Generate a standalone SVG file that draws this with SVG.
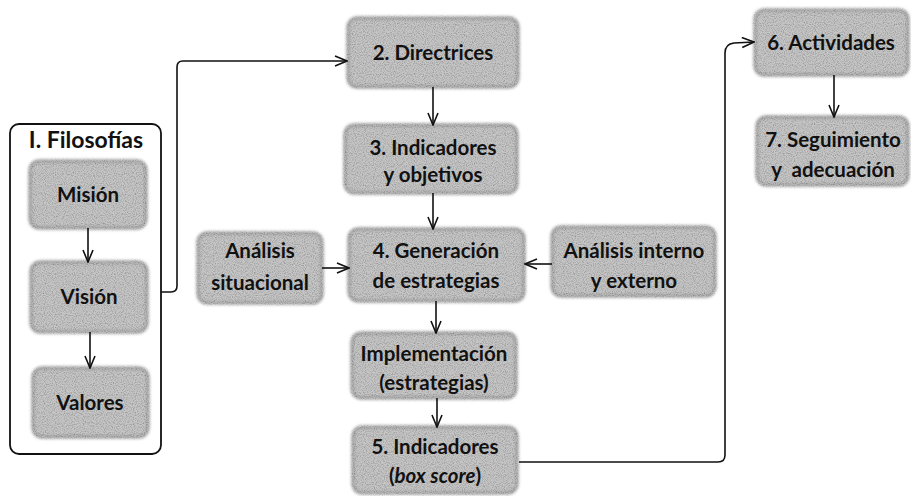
<svg xmlns="http://www.w3.org/2000/svg" width="911" height="496" viewBox="0 0 911 496">
  <style>
    .box { fill: #c6c6c6; stroke: #a0a0a0; stroke-width: 3; filter: url(#stipple); }
    .lbl { font-family: Lato, "Open Sans", "Liberation Sans", sans-serif; font-weight: bold; font-size: 20.5px; fill: #111; text-anchor: middle; }
    .title { font-size: 23px; }
    .frame { fill: none; stroke: #111; stroke-width: 1.8; }
    .conn path, .conn line { fill: none; stroke: #111; stroke-width: 1.6; marker-end: url(#arrow); }
  </style>
  <defs>
    <marker id="arrow" viewBox="0 0 14 12" refX="13" refY="6" markerWidth="14" markerHeight="12" markerUnits="userSpaceOnUse" orient="auto">
      <path d="M1,1 L13,6 L1,11" fill="none" stroke="#111" stroke-width="1.6"/>
    </marker>
    <!-- grainy halftone look for the shaded boxes -->
    <filter id="stipple" x="-10%" y="-15%" width="120%" height="130%">
      <feGaussianBlur in="SourceGraphic" stdDeviation="1.4" result="soft"/>
      <feTurbulence type="fractalNoise" baseFrequency="0.9" numOctaves="1" seed="7" result="noise"/>
      <feColorMatrix in="noise" type="matrix" values="0 0 0 0 0  0 0 0 0 0  0 0 0 0 0  2.2 0 0 0 -0.9" result="dots"/>
      <feComposite in="dots" in2="soft" operator="in" result="dotsIn"/>
      <feComponentTransfer in="dotsIn" result="dotsFaint">
        <feFuncA type="linear" slope="0.55"/>
      </feComponentTransfer>
      <feMerge>
        <feMergeNode in="soft"/>
        <feMergeNode in="dotsFaint"/>
      </feMerge>
    </filter>
  </defs>

  <!-- group frame: philosophies -->
  <g id="filosofias">
    <rect class="frame" x="10" y="124" width="151" height="330" rx="9"/>
    <text class="lbl title" x="86" y="148">I. Filosofías</text>
  </g>
  <g id="mision">
    <rect class="box" x="30" y="161" width="116" height="67" rx="9"/>
    <text class="lbl" x="88" y="202">Misión</text>
  </g>
  <g id="vision">
    <rect class="box" x="31" y="262" width="116" height="70" rx="9"/>
    <text class="lbl" x="89" y="304">Visión</text>
  </g>
  <g id="valores">
    <rect class="box" x="33" y="368" width="115" height="69" rx="9"/>
    <text class="lbl" x="90" y="410">Valores</text>
  </g>

  <!-- central chain -->
  <g id="directrices">
    <rect class="box" x="348" y="18" width="170" height="69" rx="9"/>
    <text class="lbl" x="433" y="60">2. Directrices</text>
  </g>
  <g id="indicadores-objetivos">
    <rect class="box" x="345" y="125" width="172" height="68" rx="9"/>
    <text class="lbl" x="433" y="155">3. Indicadores</text>
    <text class="lbl" x="433" y="182">y objetivos</text>
  </g>
  <g id="generacion">
    <rect class="box" x="349" y="229" width="175" height="72" rx="9"/>
    <text class="lbl" x="436" y="258">4. Generación</text>
    <text class="lbl" x="436" y="288">de estrategias</text>
  </g>
  <g id="analisis-situacional">
    <rect class="box" x="198" y="233" width="124" height="70" rx="9"/>
    <text class="lbl" x="260" y="258">Análisis</text>
    <text class="lbl" x="260" y="290">situacional</text>
  </g>
  <g id="analisis-interno">
    <rect class="box" x="552" y="227" width="163" height="69" rx="9"/>
    <text class="lbl" x="634" y="258">Análisis interno</text>
    <text class="lbl" x="634" y="288">y externo</text>
  </g>
  <g id="implementacion">
    <rect class="box" x="352" y="333" width="164" height="65" rx="9"/>
    <text class="lbl" x="434" y="361">Implementación</text>
    <text class="lbl" x="434" y="390">(estrategias)</text>
  </g>
  <g id="indicadores-box-score">
    <rect class="box" x="353" y="427" width="164" height="66" rx="9"/>
    <text class="lbl" x="435" y="454">5. Indicadores</text>
    <text class="lbl" x="435" y="483">(<tspan font-style="italic">box score</tspan>)</text>
  </g>

  <!-- right column -->
  <g id="actividades">
    <rect class="box" x="755" y="10" width="153" height="65" rx="9"/>
    <text class="lbl" x="831" y="50">6. Actividades</text>
  </g>
  <g id="seguimiento">
    <rect class="box" x="757" y="117" width="151" height="68" rx="9"/>
    <text class="lbl" x="833" y="147">7. Seguimiento</text>
    <text class="lbl" x="833" y="177" xml:space="preserve">y  adecuación</text>
  </g>

  <!-- connectors -->
  <g id="connectors" class="conn">
    <line x1="88" y1="228" x2="88" y2="262"/>
    <line x1="90" y1="332" x2="90" y2="368"/>
    <path d="M161,292 H171 Q177,292 177,286 V67 Q177,61 183,61 H347"/>
    <line x1="433" y1="87" x2="433" y2="125"/>
    <line x1="433" y1="193" x2="433" y2="229"/>
    <line x1="322" y1="268" x2="349" y2="268"/>
    <line x1="552" y1="264" x2="525" y2="264"/>
    <line x1="436" y1="301" x2="436" y2="333"/>
    <line x1="437" y1="398" x2="437" y2="427"/>
    <path d="M519,462 H718 Q725,462 725,455 V53 Q725,44 734,43 L754,42"/>
    <line x1="834" y1="75" x2="834" y2="117"/>
  </g>
</svg>
